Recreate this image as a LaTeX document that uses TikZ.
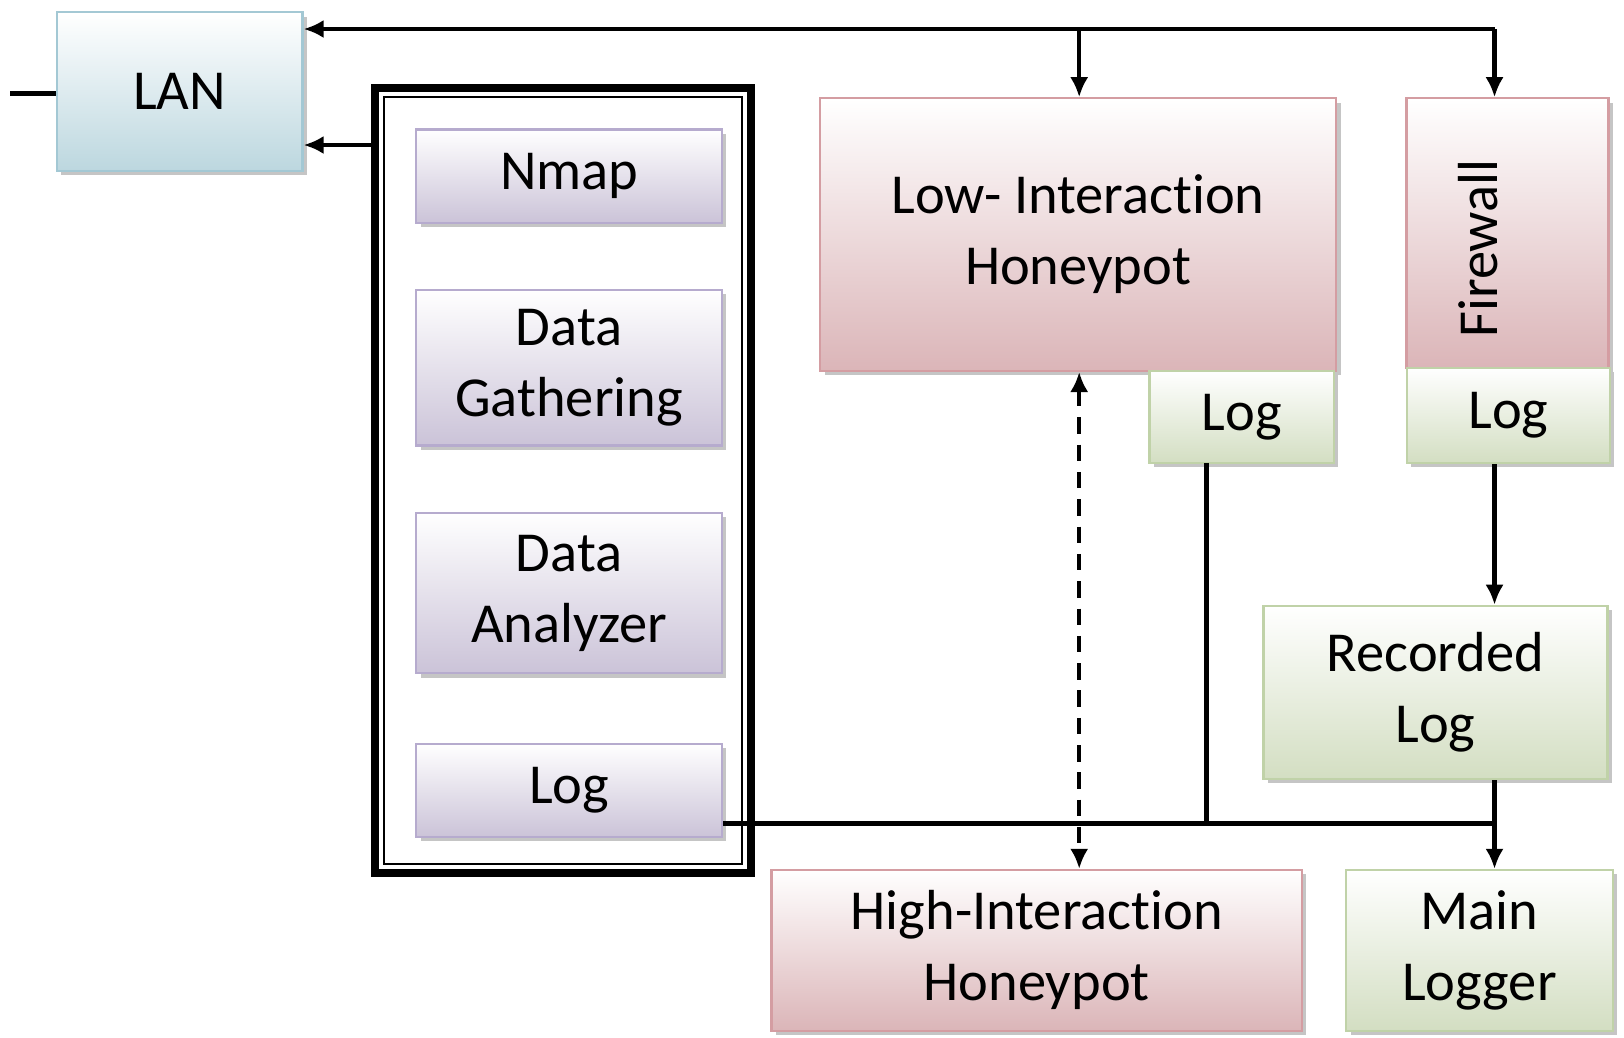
\documentclass[tikz,border=0pt]{standalone}
\usepackage{fontspec}
\setmainfont{Carlito}[Ligatures=NoCommon]
\usetikzlibrary{arrows.meta,shadows}

\definecolor{lanfill}{HTML}{BCD7DF}
\definecolor{lanedge}{HTML}{A3C8D4}
\definecolor{toolfill}{HTML}{CBC3D8}
\definecolor{tooledge}{HTML}{B6ABCE}
\definecolor{potfill}{HTML}{DBB5B8}
\definecolor{potedge}{HTML}{D49DA2}
\definecolor{logfill}{HTML}{D3DEC2}
\definecolor{logedge}{HTML}{C0D2A8}

\begin{document}
\begin{tikzpicture}[
        x=0.01cm, y=-0.01cm,
        font=\fontsize{15.5}{19.5}\selectfont,
        box/.style={
            draw,
            align=center,
            inner sep=0pt,
            line width=0.6pt,
            drop shadow={shadow xshift=1.2pt, shadow yshift=-1.2pt,
                fill=black!45, opacity=0.5}
        },
        lanbox/.style={box, draw=lanedge, top color=white, bottom color=lanfill},
        toolbox/.style={box, draw=tooledge, top color=white, bottom color=toolfill,
            minimum width=2.95cm},
        potbox/.style={box, draw=potedge, top color=white, bottom color=potfill},
        logbox/.style={box, draw=logedge, top color=white, bottom color=logfill},
        conn/.style={line width=1.25pt},
        arr/.style={conn, -{Latex[length=5.5pt,width=5pt]}}
    ]
    \useasboundingbox (0,0) rectangle (1568,1002);
    % Rahmen um die Werkzeuge
    \node[draw, line width=2.2pt, minimum width=3.63cm, minimum height=7.58cm] (frame) at (543.5,464) {};
    \node[draw, line width=0.6pt, minimum width=3.45cm, minimum height=7.40cm] (frameinner) at (543.5,464) {};
    % Boxen
    \node[lanbox, minimum width=2.37cm, minimum height=1.53cm] (lan) at (173.5,88.5) {LAN};
    \node[toolbox, minimum height=0.90cm] (nmap) at (549.5,170) {Nmap};
    \node[toolbox, minimum height=1.50cm] (gather) at (549.5,355) {Data\\Gathering};
    \node[toolbox, minimum height=1.55cm] (analyzer) at (549.5,572.5) {Data\\Analyzer};
    \node[toolbox, minimum height=0.90cm] (toollog) at (549.5,763) {Log};
    \node[potbox, minimum width=4.98cm, minimum height=2.63cm] (low) at (1041,226.5) {Low- Interaction\\Honeypot};
    \node[logbox, minimum width=1.78cm, minimum height=0.89cm] (lowlog) at (1199,402.5) {Log};
    \node[potbox, minimum width=1.95cm, minimum height=2.60cm] (fw) at (1455.5,225) {};
    \node[rotate=90] (fwlabel) at (1427,240) {Firewall};
    \node[logbox, minimum width=1.96cm, minimum height=0.92cm] (fwlog) at (1456.5,401) {Log};
    \node[logbox, minimum width=3.32cm, minimum height=1.67cm] (rec) at (1386,668.5) {Recorded\\Log};
    \node[potbox, minimum width=5.12cm, minimum height=1.55cm] (high) at (1001,917.5) {High-Interaction\\Honeypot};
    \node[logbox, minimum width=2.57cm, minimum height=1.55cm] (main) at (1428.5,917.5) {Main\\Logger};
    % Hilfspunkte
    \coordinate (lanin) at (10,90);
    \coordinate (busl) at (1042,28);
    \coordinate (busr) at (1443,28);
    \coordinate (tap) at (362,140);
    \coordinate (lowtap) at (1165,447);
    \coordinate (join) at (1443,795);
    % Verbindungen oben
    \draw[conn] (lan.west |- lanin) -- (lanin);
    \draw[arr] (busr) -- (busr -| lan.east);
    \draw[arr] (busl) -- (busl |- low.north);
    \draw[arr] (busr) -- (busr |- fw.north);
    \draw[arr] (tap) -- (tap -| lan.east);
    % Honeypots
    \draw[conn, {Latex[length=5.5pt,width=5pt]}-{Latex[length=5.5pt,width=5pt]},
        dash pattern=on 4.5pt off 3pt] (busl |- low.south) -- (busl |- high.north);
    % Logs
    \draw[conn] (join -| toollog.east) -- (join);
    \draw[conn] (lowtap) -- (lowtap |- join);
    \draw[arr] (join |- fwlog.south) -- (join |- rec.north);
    \draw[arr] (join |- rec.south) -- (join |- main.north);
\end{tikzpicture}
\end{document}
